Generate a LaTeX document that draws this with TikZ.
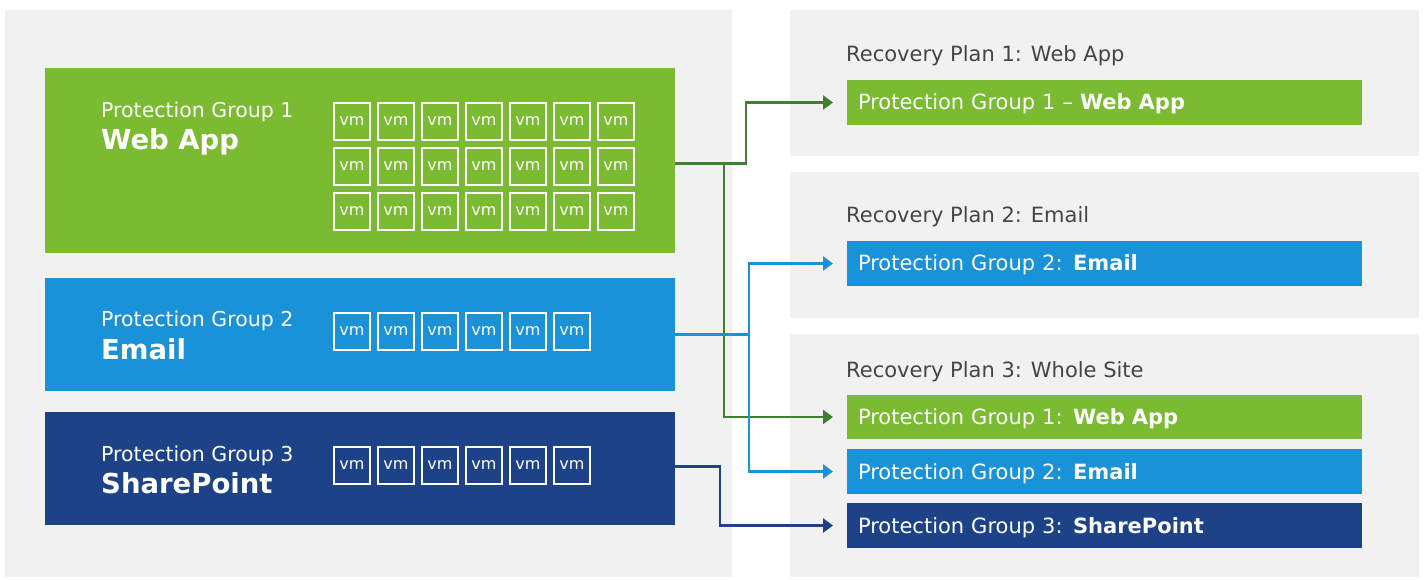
\documentclass[tikz,border=0pt]{standalone}
\usepackage{fontspec}
\setmainfont{DejaVu Sans}
\usetikzlibrary{arrows.meta,positioning,calc}

\definecolor{panelgray}{HTML}{F1F1F1}
\definecolor{pggreen}{HTML}{7ABB31}
\definecolor{pgblue}{HTML}{1A92D7}
\definecolor{pgnavy}{HTML}{1D4288}
\definecolor{lnkgreen}{HTML}{3E7F30}
\definecolor{titlegray}{HTML}{454545}

\tikzset{
  panel/.style={fill=panelgray, draw=none},
  groupbox/.style={anchor=north west, inner sep=0pt, outer sep=0pt, minimum width=630pt},
  vmbox/.style={anchor=north west, draw=white, line width=1.8pt, inner sep=0pt, minimum width=36pt, minimum height=37pt,
    text=white, font=\fontsize{16}{18}\selectfont},
  grouptext/.style={anchor=base west, text=white, inner sep=0pt, font=\fontsize{20.5}{24}\selectfont},
  groupname/.style={anchor=base west, text=white, inner sep=0pt, font=\fontsize{27.5}{32}\selectfont\bfseries},
  plantitle/.style={anchor=base west, text=titlegray, inner sep=0pt, font=\fontsize{21}{24}\selectfont},
  planbar/.style={anchor=north west, inner xsep=11pt, inner ysep=0pt, outer sep=0pt, text width=493pt, align=left,
    minimum height=45pt, text height=15pt, text depth=0pt, text=white, font=\fontsize{21}{24}\selectfont},
  link/.style={line width=2.2pt, -{Triangle[length=10pt,width=14pt]}, shorten >=14pt},
}

\begin{document}
\begin{tikzpicture}[x=1pt,y=1pt]
  \useasboundingbox (0,0) rectangle (1424,579);

  % background panels
  \fill[panel] (5,569) rectangle (732,2);
  \fill[panel] (790,569) rectangle (1419,423);
  \fill[panel] (790,407) rectangle (1419,261);
  \fill[panel] (790,245) rectangle (1419,2);

  % protection groups
  \node[groupbox, fill=pggreen, minimum height=185pt] (pg1) at (45,511) {};
  \node[groupbox, fill=pgblue, minimum height=113pt] (pg2) at (45,301) {};
  \node[groupbox, fill=pgnavy, minimum height=113pt] (pg3) at (45,167) {};

  \node[grouptext] (pg1t) at ([xshift=56pt,yshift=-50pt]pg1.north west) {Protection Group 1};
  \node[groupname] (pg1n) at ([xshift=56pt,yshift=-82pt]pg1.north west) {Web App};
  \node[grouptext] (pg2t) at ([xshift=56pt,yshift=-49pt]pg2.north west) {Protection Group 2};
  \node[groupname] (pg2n) at ([xshift=56pt,yshift=-82pt]pg2.north west) {Email};
  \node[grouptext] (pg3t) at ([xshift=56pt,yshift=-49pt]pg3.north west) {Protection Group 3};
  \node[groupname] (pg3n) at ([xshift=56pt,yshift=-81pt]pg3.north west) {SharePoint};

  % virtual machines
  \foreach \g/\rows/\cols in {pg1/3/7, pg2/1/6, pg3/1/6} {
    \foreach \r in {1,...,\rows} {
      \foreach \c in {1,...,\cols} {
        \node[vmbox] (\g-vm-\r-\c) at ([xshift=288pt+44pt*(\c-1),yshift=-34pt-45pt*(\r-1)]\g.north west) {vm};
      }
    }
  }

  % recovery plans
  \node[plantitle] (rp1t) at (846,517) {Recovery Plan 1: Web App};
  \node[planbar, fill=pggreen] (rp1) at (847,499) {Protection Group 1 – \textbf{Web App}};

  \node[plantitle] (rp2t) at (846,356) {Recovery Plan 2: Email};
  \node[planbar, fill=pgblue] (rp2) at (847,338) {Protection Group 2: \textbf{Email}};

  \node[plantitle] (rp3t) at (846,202) {Recovery Plan 3: Whole Site};
  \node[planbar, fill=pggreen, minimum height=44pt] (rp3a) at (847,184) {Protection Group 1: \textbf{Web App}};
  \node[planbar, fill=pgblue] (rp3b) at (847,130) {Protection Group 2: \textbf{Email}};
  \node[planbar, fill=pgnavy] (rp3c) at (847,76) {Protection Group 3: \textbf{SharePoint}};

  % links
  \draw[link, lnkgreen] ([yshift=-3pt]pg1.east) -| ([xshift=-101pt]rp1.west) -- (rp1.west);
  \draw[link, lnkgreen] ([xshift=49pt,yshift=-3pt]pg1.east) |- (rp3a.west);
  \draw[link, pgblue] (pg2.east) -| ([xshift=-98pt]rp2.west) -- (rp2.west);
  \draw[link, pgblue] ([xshift=74pt]pg2.east) |- (rp3b.west);
  \draw[link, pgnavy] ([yshift=2pt]pg3.east) -| ([xshift=-127pt]rp3c.west) -- (rp3c.west);
\end{tikzpicture}
\end{document}
